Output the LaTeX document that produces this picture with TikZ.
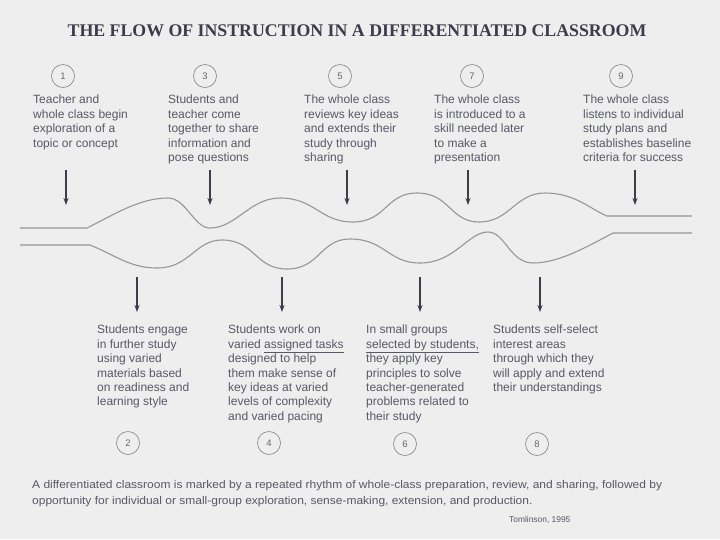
\documentclass[tikz,border=0pt]{standalone}
\usepackage{fontspec}
\setmainfont{Liberation Serif}
\setsansfont{Liberation Sans}
\newfontfamily\notefont[FakeStretch=1.07]{Liberation Sans}
\usepackage{xcolor}
\usetikzlibrary{arrows.meta, positioning}
\definecolor{paper}{RGB}{238,238,238}
\definecolor{ink}{RGB}{88,88,104}
\definecolor{darkink}{RGB}{60,60,74}
\definecolor{wave}{RGB}{150,150,155}
\definecolor{ring}{RGB}{130,130,136}

\begin{document}
\begin{tikzpicture}[x=1pt, y=-1pt,
    every node/.style={text=ink},
    desc/.style = {anchor=north west, inner sep=0pt, align=left,
                   font=\sffamily\fontsize{12}{14.4}\selectfont},
    num/.style  = {circle, draw=ring, semithick, minimum size=23pt, inner sep=0pt,
                   text=ring!80!black, font=\sffamily\fontsize{9.5}{10}\selectfont},
    arr/.style  = {-{Stealth[length=7pt,width=5pt]}, line width=1.4pt, draw=darkink},
    flow/.style = {draw=wave, line width=1.1pt}
]

\fill[paper] (0,0) rectangle (720,539);
\useasboundingbox (0,0) rectangle (720,539);

\node (title) at (357,31) [font=\bfseries\fontsize{17.8}{20}\selectfont, text=darkink]
  {THE FLOW OF INSTRUCTION IN A DIFFERENTIATED CLASSROOM};

% whole-class steps (top)
\node (c1) [num] at (63,76) {1};
\node (c3) [num] at (205,76) {3};
\node (c5) [num] at (340,76) {5};
\node (c7) [num] at (472,76) {7};
\node (c9) [num] at (621,76) {9};

\node (t1) [desc] at (33,95) {Teacher and\\ whole class begin\\ exploration of a\\ topic or concept};
\node (t3) [desc] at (168,95) {Students and\\ teacher come\\ together to share\\ information and\\ pose questions};
\node (t5) [desc] at (304,95) {The whole class\\ reviews key ideas\\ and extends their\\ study through\\ sharing};
\node (t7) [desc] at (434,95) {The whole class\\ is introduced to a\\ skill needed later\\ to make a\\ presentation};
\node (t9) [desc] at (583,95) {The whole class\\ listens to individual\\ study plans and\\ establishes baseline\\ criteria for success};

% individual / small-group steps (bottom)
\node (t2) [desc] at (97,325) {Students engage\\ in further study\\ using varied\\ materials based\\ on readiness and\\ learning style};
\node (t4) [desc] at (228,325) {Students work on\\ varied \underline{assigned tasks}\\ designed to help\\ them make sense of\\ key ideas at varied\\ levels of complexity\\ and varied pacing};
\node (t6) [desc] at (366,325) {In small groups\\ \underline{selected by students,}\\ they apply key\\ principles to solve\\ teacher-generated\\ problems related to\\ their study};
\node (t8) [desc] at (493,325) {Students self-select\\ interest areas\\ through which they\\ will apply and extend\\ their understandings};

\node (c2) [num] at (128,443) {2};
\node (c4) [num] at (269,443) {4};
\node (c6) [num] at (405,444) {6};
\node (c8) [num] at (537,444) {8};

% the two strands
\draw[flow] (20,228) -- (87,228)
  .. controls (115,214) and (140,198) .. (168,198)
  .. controls (186,198) and (194,228) .. (210,228)
  .. controls (236,228) and (250,198) .. (280,198)
  .. controls (315,198) and (320,222) .. (353,222)
  .. controls (386,222) and (386,193) .. (417,193)
  .. controls (450,193) and (450,222) .. (479,222)
  .. controls (510,222) and (515,193) .. (545,193)
  .. controls (575,193) and (590,209) .. (607,216) -- (692,216);
\draw[flow] (20,245) -- (90,245)
  .. controls (115,255) and (130,268) .. (157,268)
  .. controls (190,268) and (195,240) .. (222,240)
  .. controls (255,240) and (255,269) .. (287,269)
  .. controls (320,269) and (320,239) .. (350,239)
  .. controls (385,239) and (388,263) .. (420,263)
  .. controls (455,263) and (468,232) .. (488,232)
  .. controls (505,232) and (510,263) .. (533,263)
  .. controls (560,263) and (590,245) .. (613,233) -- (692,233);

% arrows
\coordinate (a1) at (66,170);  \coordinate (b1) at (66,205);
\coordinate (a3) at (210,170); \coordinate (b3) at (210,205);
\coordinate (a5) at (347,170); \coordinate (b5) at (347,205);
\coordinate (a7) at (468,170); \coordinate (b7) at (468,205);
\coordinate (a9) at (635,170); \coordinate (b9) at (635,205);
\coordinate (a2) at (137,277); \coordinate (b2) at (137,312);
\coordinate (a4) at (282,277); \coordinate (b4) at (282,312);
\coordinate (a6) at (420,277); \coordinate (b6) at (420,312);
\coordinate (a8) at (540,277); \coordinate (b8) at (540,312);

\draw[arr] (a1) -- (b1);
\draw[arr] (a3) -- (b3);
\draw[arr] (a5) -- (b5);
\draw[arr] (a7) -- (b7);
\draw[arr] (a9) -- (b9);
\draw[arr] (a2) -- (b2);
\draw[arr] (a4) -- (b4);
\draw[arr] (a6) -- (b6);
\draw[arr] (a8) -- (b8);

\node (note) [anchor=north west, inner sep=0pt, align=left,
              font=\notefont\fontsize{11.2}{15.8}\selectfont] at (32,480)
  {A differentiated classroom is marked by a repeated rhythm of whole-class preparation, review, and sharing, followed by\\
   opportunity for individual or small-group exploration, sense-making, extension, and production.};
\node (cite) [anchor=west, inner sep=0pt, font=\sffamily\fontsize{8.4}{10}\selectfont] at (509,520)
  {Tomlinson, 1995};

\end{tikzpicture}
\end{document}
